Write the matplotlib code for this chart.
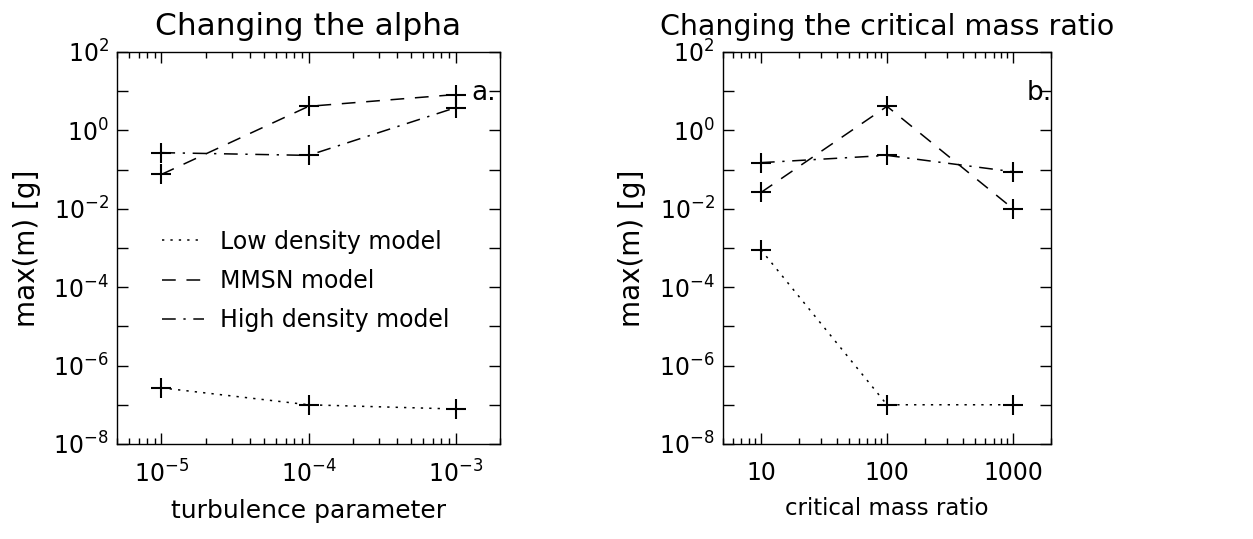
import matplotlib
matplotlib.use("Agg")
import matplotlib.pyplot as plt
from matplotlib.ticker import LogLocator, FixedLocator, FixedFormatter, NullFormatter, LogFormatterSciNotation

# panel a: turbulence parameter
alpha = [1e-5, 1e-4, 1e-3]
alpha_low = [2.7e-7, 1.0e-7, 7.8e-8]
alpha_mmsn = [0.075, 4.1, 8.2]
alpha_high = [0.27, 0.23, 3.8]

# panel b: critical mass ratio
ratio = [10, 100, 1000]
ratio_low = [9e-4, 1e-7, 1e-7]
ratio_mmsn = [0.026, 4.1, 0.01]
ratio_high = [0.15, 0.23, 0.088]

labels = ["Low density model", "MMSN model", "High density model"]

plt.rcParams["font.family"] = "DejaVu Sans"
plt.rcParams["mathtext.fontset"] = "dejavusans"

fig = plt.figure(figsize=(12.53, 5.39), dpi=100)
ax1 = fig.add_axes([0.0934, 0.1763, 0.3057, 0.7273])
ax2 = fig.add_axes([0.577, 0.1763, 0.2618, 0.7273])

styles = [(0, (1.5, 4)), (0, (9, 7)), (0, (9, 5, 1.5, 5))]
mk = dict(color="black", lw=1.1, marker="+", markersize=15, markeredgewidth=1.5)


def setup(ax):
    ax.set_xscale("log")
    ax.set_yscale("log")
    ax.set_ylim(1e-8, 1e2)
    ax.yaxis.set_major_locator(FixedLocator([10.0 ** k for k in range(-8, 3)]))
    ax.yaxis.set_major_formatter(FixedFormatter(
        ["$\\mathdefault{10^{%d}}$" % k if k % 2 == 0 else "" for k in range(-8, 3)]))
    ax.yaxis.set_minor_locator(FixedLocator([]))
    ax.xaxis.set_minor_locator(LogLocator(base=10, subs=range(2, 10)))
    ax.xaxis.set_minor_formatter(NullFormatter())
    ax.tick_params(which="both", direction="in", top=True, right=True, labelsize=17, width=1)
    ax.tick_params(which="major", length=8)
    ax.tick_params(which="minor", length=4)
    ax.tick_params(axis="x", pad=12)
    ax.tick_params(axis="y", pad=6)
    for s in ax.spines.values():
        s.set_linewidth(1)
    ax.set_ylabel("max(m) [g]", fontsize=20, labelpad=9)


for y, ls, lab in zip([alpha_low, alpha_mmsn, alpha_high], styles, labels):
    ax1.plot(alpha, y, linestyle=ls, label=lab, **mk)
setup(ax1)
ax1.set_xlim(5e-6, 2e-3)
ax1.xaxis.set_major_locator(FixedLocator(alpha))
ax1.xaxis.set_major_formatter(LogFormatterSciNotation())
ax1.set_xlabel("turbulence parameter", fontsize=18, labelpad=8)
ax1.set_title("Changing the alpha", fontsize=22.5, pad=12)
ax1.text(0.925, 0.895, "a.", transform=ax1.transAxes, fontsize=19, ha="left", va="center")

handles = [plt.Line2D([], [], color="black", lw=1.1, linestyle=ls) for ls in styles]
ax1.legend(handles, labels, loc="center left", bbox_to_anchor=(0.117, 0.416), frameon=False,
           fontsize=17, handlelength=1.8, handletextpad=0.65, labelspacing=0.65,
           borderpad=0, borderaxespad=0)

for y, ls, lab in zip([ratio_low, ratio_mmsn, ratio_high], styles, labels):
    ax2.plot(ratio, y, linestyle=ls, label=lab, **mk)
setup(ax2)
ax2.set_xlim(5, 2000)
ax2.xaxis.set_major_locator(FixedLocator(ratio))
ax2.xaxis.set_major_formatter(FixedFormatter([str(r) for r in ratio]))
ax2.set_xlabel("critical mass ratio", fontsize=16.5, labelpad=9)
ax2.set_title("Changing the critical mass ratio", fontsize=20.5, pad=12)
ax2.text(0.927, 0.895, "b.", transform=ax2.transAxes, fontsize=19, ha="left", va="center")

fig.savefig("out.png", dpi=100)
